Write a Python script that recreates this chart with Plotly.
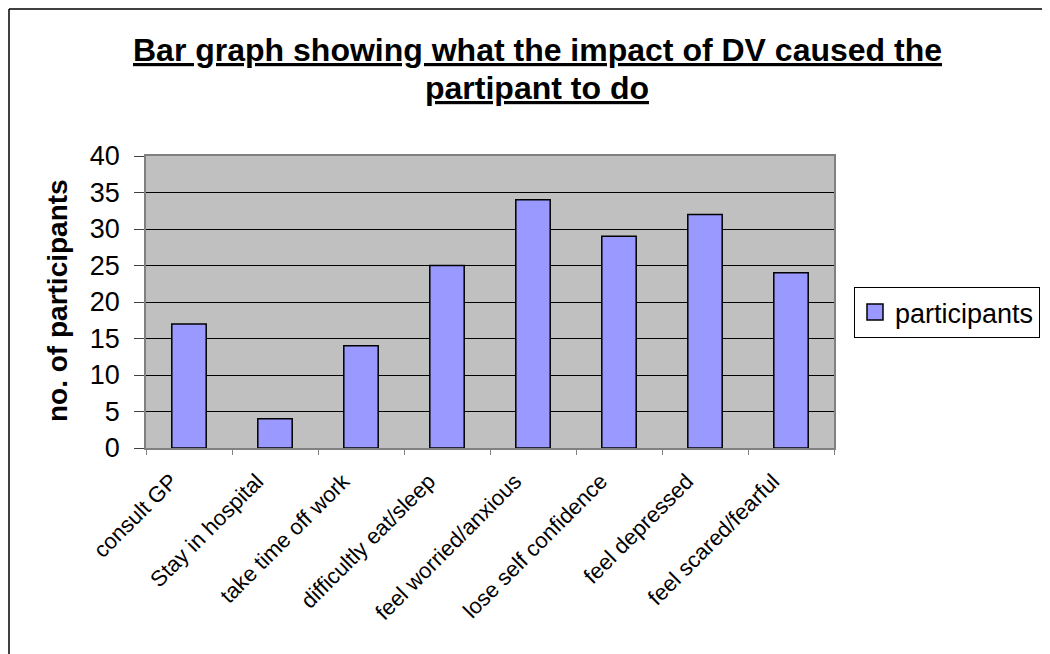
import plotly.graph_objects as go

categories = ["consult GP", "Stay in hospital", "take time off work", "difficultly eat/sleep",
              "feel worried/anxious", "lose self confidence", "feel depressed", "feel scared/fearful"]
participants = [17, 4, 14, 25, 34, 29, 32, 24]
series_name = "participants"
title_lines = ["Bar graph showing what the impact of DV caused the", "partipant to do"]
y_title = "no. of participants"

FONT = "Liberation Sans, Arial, sans-serif"
OFF = 8  # page body margin: figure is drawn 8px right/down of the window origin
PAGE_W, PAGE_H = 1050, 654
W, H = PAGE_W - OFF, PAGE_H - OFF
# plot area bounds in page pixels
PL, PR, PT, PB = 146, 834, 156, 448
L, R, T, B = PL - OFF, PR - OFF, PT - OFF, PB - OFF
BAR_COLOR = "#9999FF"


def px_x(px):
    """page x pixel -> paper coordinate"""
    return (px - PL) / (PR - PL)


def px_y(py):
    """page y pixel -> paper coordinate"""
    return (PB - py) / (PB - PT)


fig = go.Figure()
fig.add_trace(go.Bar(
    x=categories, y=participants, name=series_name,
    marker=dict(color=BAR_COLOR, line=dict(color="black", width=1.5)),
    showlegend=False,
))
# legend proxy (larger square key like the original)
fig.add_trace(go.Scatter(
    x=[None], y=[None], mode="markers", name=series_name,
    marker=dict(symbol="square", size=17, color=BAR_COLOR, line=dict(color="black", width=1.5)),
    showlegend=True,
))

U = '<span style="text-decoration:underline;text-decoration-thickness:3px;text-underline-offset:3px">'
annotations = []
for line, base in zip(title_lines, [62, 100]):
    annotations.append(dict(
        text=f"{U}<b>{line}</b></span>", xref="paper", yref="paper",
        x=px_x(537), y=px_y(base), xanchor="center", yanchor="bottom",
        showarrow=False, yshift=-8,
        font=dict(family=FONT, size=32, color="black"),
    ))
annotations.append(dict(
    text=f"<b>{y_title}</b>", xref="paper", yref="paper",
    x=px_x(57), y=px_y(301), xanchor="center", yanchor="middle",
    textangle=-90, showarrow=False,
    font=dict(family=FONT, size=28, color="black"),
))

fig.update_layout(
    template="none",
    width=W, height=H,
    margin=dict(l=L, r=W - R, t=T, b=H - B, pad=0, autoexpand=False),
    paper_bgcolor="white",
    plot_bgcolor="#C0C0C0",
    bargap=0.6,
    font=dict(family=FONT, color="black"),
    xaxis=dict(
        automargin=False,
        tickangle=-45, tickfont=dict(size=22, family=FONT, color="black"),
        showline=True, linecolor="#808080", linewidth=1.5, mirror=True,
        ticks="outside", tickson="boundaries", ticklen=5, tickcolor="#808080",
        showgrid=False, ticklabelshift=-18, ticklabelstandoff=10,
    ),
    yaxis=dict(
        automargin=False,
        range=[0, 40], dtick=5, tick0=0,
        tickfont=dict(size=27, family=FONT, color="black"),
        showline=True, linecolor="#808080", linewidth=1.5, mirror=True,
        ticks="outside", ticklen=10, tickcolor="#404040",
        showgrid=True, gridcolor="black", gridwidth=1, zeroline=False,
        ticklabelstandoff=9,
    ),
    legend=dict(
        x=px_x(854), xanchor="left", y=px_y(287), yanchor="top",
        bgcolor="white", bordercolor="black", borderwidth=1,
        font=dict(size=27, family=FONT, color="black"),
        itemwidth=30,
    ),
    annotations=annotations,
    shapes=[
        dict(type="line", xref="paper", yref="paper", x0=px_x(OFF + 1), x1=px_x(OFF + 1),
             y0=px_y(OFF + 1), y1=px_y(PAGE_H + 5), line=dict(color="black", width=1.5)),
        dict(type="line", xref="paper", yref="paper", x0=px_x(OFF + 1), x1=px_x(PAGE_W + 5),
             y0=px_y(OFF + 1), y1=px_y(OFF + 1), line=dict(color="black", width=1.5)),
    ],
)

fig.write_html("out.html")
